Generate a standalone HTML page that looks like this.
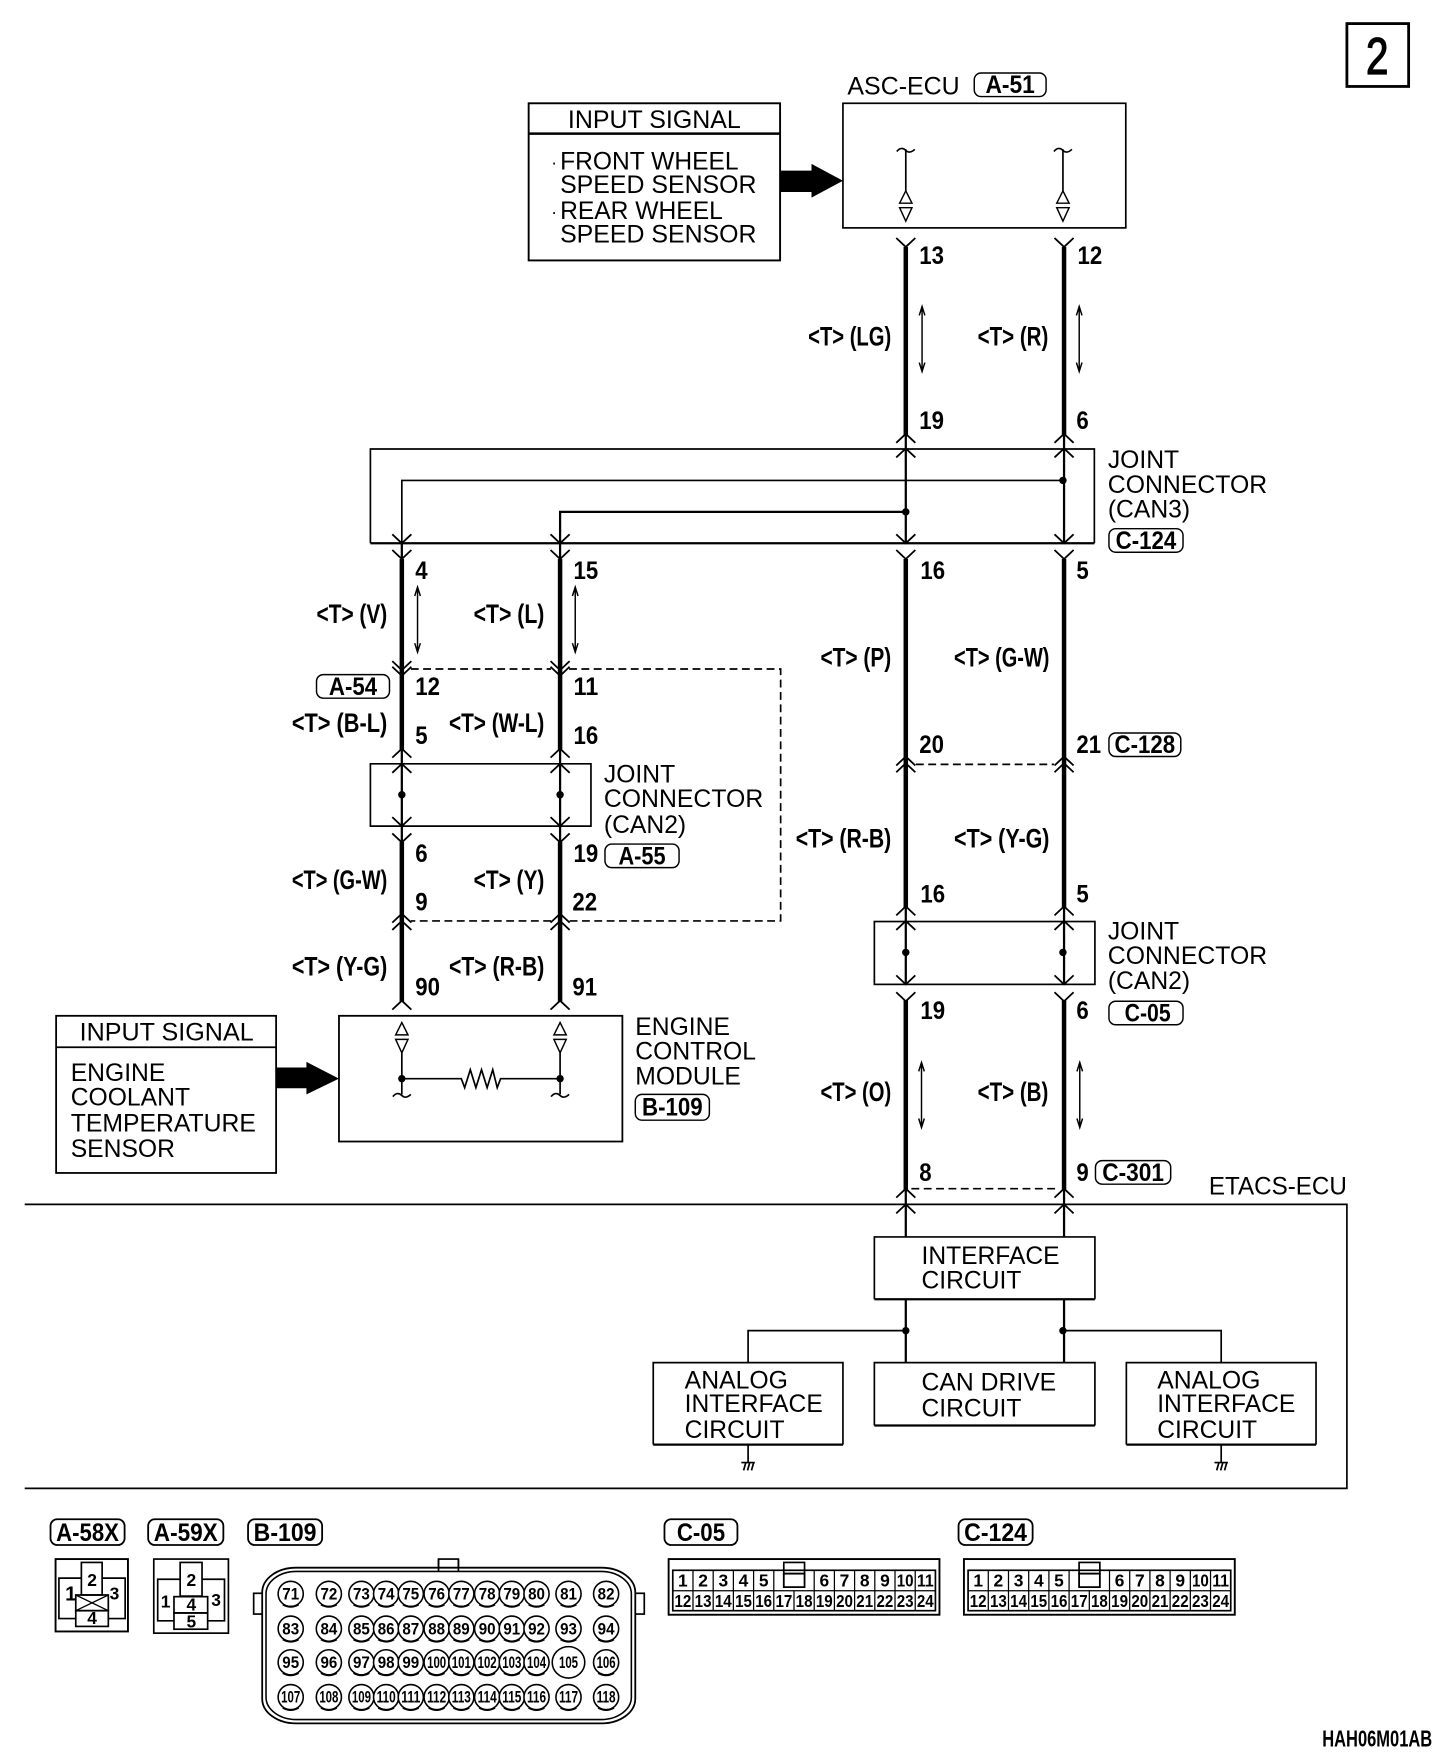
<!DOCTYPE html>
<html>
<head>
<meta charset="utf-8">
<title>Wiring diagram</title>
<style>
html,body{margin:0;padding:0;background:#fff;width:1456px;height:1760px;overflow:hidden}
svg{display:block}
text{font-family:"Liberation Sans",sans-serif;fill:#000;stroke:none}
.r{font-size:22px}
.b{font-size:24px;font-weight:bold}
.d{font-size:22px;font-weight:bold}
.s{font-size:14.5px;font-weight:bold;text-anchor:middle}
.g{font-size:15.5px;font-weight:bold;text-anchor:middle}
.f{fill:none;stroke:#000;stroke-width:1.5}
.t{fill:none;stroke:#000;stroke-width:2}
.w{fill:none;stroke:#000;stroke-width:4}
.p{fill:#fff;stroke:#000;stroke-width:1.3}
.dash{fill:none;stroke:#000;stroke-width:1.5;stroke-dasharray:7 4}
</style>
</head>
<body>
<svg xmlns="http://www.w3.org/2000/svg" width="1456" height="1760" viewBox="0 0 1297.2 1568">
<defs>
<path id="v" d="M-8.5,-8 L0,0 L8.5,-8" fill="none" stroke="#000" stroke-width="1.6"/>
<path id="u" d="M-8.5,8 L0,0 L8.5,8" fill="none" stroke="#000" stroke-width="1.6"/>
<path id="tl" d="M-8,2 C-5,-2 -2,-1 0,1 C2,3 5,3 8,0" fill="none" stroke="#000" stroke-width="1.5"/>
<path id="tr" d="M-5.5,11 L0,0 L5.5,11 Z M-5.5,15 L5.5,15 L0,27 Z" fill="#fff" stroke="#000" stroke-width="1.3"/>
<path id="da" d="M0,0 V58 M-2.5,8 L0,0 L2.5,8 M-2.5,50 L0,58 L2.5,50" fill="none" stroke="#000" stroke-width="1.3"/>
<path id="gnd" d="M-6,0 H6 M-4,7 L-2,0 M-0.5,7 L1.5,0 M3,7 L5,0" fill="none" stroke="#000" stroke-width="1.5"/>
<g id="c"><circle r="11.2" fill="#fff" stroke="#000" stroke-width="1.4"/><path d="M-7,9.5 Q0,13.5 7,9.5" fill="none" stroke="#000" stroke-width="1.8"/></g>
</defs>

<!-- page number -->
<rect x="1200" y="21" width="55" height="56" fill="none" stroke="#000" stroke-width="2.5"/>
<text x="1217" y="66" font-size="46" textLength="20" lengthAdjust="spacingAndGlyphs" stroke="#000" style="stroke:#000;stroke-width:1.2">2</text>

<!-- ASC-ECU -->
<text class="r" x="755" y="84" textLength="100" lengthAdjust="spacingAndGlyphs">ASC-ECU</text>
<rect class="p" x="868" y="65" width="64" height="21" rx="6"/>
<text class="d" x="878" y="83" textLength="44" lengthAdjust="spacingAndGlyphs">A-51</text>
<rect class="f" x="751" y="92" width="252" height="111"/>
<use href="#tl" x="807" y="133"/><use href="#tl" x="947" y="133"/>
<path class="f" d="M807,133 V170 M947,133 V170"/>
<use href="#tr" x="807" y="170"/><use href="#tr" x="947" y="170"/>

<!-- Input signal top -->
<rect x="471" y="92" width="224" height="140" fill="none" stroke="#000" stroke-width="1.7"/>
<path d="M471,119 H695" stroke="#000" stroke-width="2.2" fill="none"/>
<text class="r" x="506" y="114" textLength="154" lengthAdjust="spacingAndGlyphs">INPUT SIGNAL</text>
<text x="491" y="150" font-size="16">·</text>
<text class="r" x="499" y="151" textLength="159" lengthAdjust="spacingAndGlyphs">FRONT WHEEL</text>
<text class="r" x="499" y="172" textLength="175" lengthAdjust="spacingAndGlyphs">SPEED SENSOR</text>
<text x="491" y="194" font-size="16">·</text>
<text class="r" x="499" y="195" textLength="145" lengthAdjust="spacingAndGlyphs">REAR WHEEL</text>
<text class="r" x="499" y="216" textLength="175" lengthAdjust="spacingAndGlyphs">SPEED SENSOR</text>
<path d="M695,152 H723 V146 L751,161 L723,176 V171 H695 Z" fill="#000"/>

<!-- Joint CAN3 -->
<path class="f" d="M330,484 V400 H975 V484"/>
<path d="M330,484 H975" stroke="#000" stroke-width="2" fill="none"/>
<path class="f" d="M947,428 H358 V484"/>
<path class="t" d="M807,456 H499 V484"/>
<circle cx="807" cy="456" r="3.3"/><circle cx="947" cy="428" r="3.3"/>
<text class="r" x="987" y="417">JOINT</text>
<text class="r" x="987" y="439" textLength="142" lengthAdjust="spacingAndGlyphs">CONNECTOR</text>
<text class="r" x="987" y="461">(CAN3)</text>
<rect class="p" x="988" y="471" width="66" height="21" rx="6"/>
<text class="d" x="994" y="489" textLength="54" lengthAdjust="spacingAndGlyphs">C-124</text>

<!-- Right wires -->
<path class="w" d="M807,220 V388 M948,220 V388 M807,498 V680 M948,498 V680 M807,680 V809 M948,680 V809 M807,891 V1060 M948,891 V1060"/>
<path class="t" d="M807,388 V484 M948,388 V484 M807,809 V877 M948,809 V877 M807,1060 V1102 M948,1060 V1102 M807,1157 V1214 M948,1157 V1214"/>
<use href="#v" x="807" y="220"/><use href="#v" x="948" y="220"/>
<use href="#u" x="807" y="386.5"/><use href="#u" x="948" y="386.5"/>
<use href="#u" x="807" y="399.5"/><use href="#u" x="948" y="399.5"/>
<use href="#v" x="807" y="484"/><use href="#v" x="948" y="484"/>
<use href="#v" x="807" y="498"/><use href="#v" x="948" y="498"/>
<use href="#u" x="807" y="674"/><use href="#u" x="948" y="674"/>
<use href="#u" x="807" y="680"/><use href="#u" x="948" y="680"/>
<path class="dash" d="M816,681 H939"/>
<use href="#u" x="807" y="807.5"/><use href="#u" x="948" y="807.5"/>
<use href="#u" x="807" y="820.5"/><use href="#u" x="948" y="820.5"/>
<use href="#v" x="807" y="877"/><use href="#v" x="948" y="877"/>
<use href="#v" x="807" y="892"/><use href="#v" x="948" y="892"/>
<use href="#u" x="807" y="1059"/><use href="#u" x="948" y="1059"/>
<use href="#u" x="807" y="1073"/><use href="#u" x="948" y="1073"/>
<path class="dash" d="M812,1059 H943"/>

<!-- Joint CAN2 right -->
<rect class="f" x="779" y="821" width="196.5" height="56"/>
<circle cx="807" cy="848.5" r="3.3"/><circle cx="947" cy="848.5" r="3.3"/>
<text class="r" x="987" y="837">JOINT</text>
<text class="r" x="987" y="859" textLength="142" lengthAdjust="spacingAndGlyphs">CONNECTOR</text>
<text class="r" x="987" y="881">(CAN2)</text>
<rect class="p" x="988" y="892" width="66" height="21" rx="6"/>
<text class="d" x="1002" y="910" textLength="41" lengthAdjust="spacingAndGlyphs">C-05</text>

<!-- Right labels -->
<text class="d" x="819" y="235" textLength="22" lengthAdjust="spacingAndGlyphs">13</text>
<text class="d" x="960" y="235" textLength="22" lengthAdjust="spacingAndGlyphs">12</text>
<text class="d" x="819" y="382" textLength="22" lengthAdjust="spacingAndGlyphs">19</text>
<text class="d" x="959" y="382" textLength="11" lengthAdjust="spacingAndGlyphs">6</text>
<text class="b" x="720" y="308" textLength="74" lengthAdjust="spacingAndGlyphs">&lt;T&gt; (LG)</text>
<text class="b" x="871" y="308" textLength="63" lengthAdjust="spacingAndGlyphs">&lt;T&gt; (R)</text>
<use href="#da" x="821.5" y="273"/><use href="#da" x="961.5" y="273"/>
<text class="d" x="820" y="516" textLength="22" lengthAdjust="spacingAndGlyphs">16</text>
<text class="d" x="959" y="516" textLength="11" lengthAdjust="spacingAndGlyphs">5</text>
<text class="b" x="731" y="594" textLength="63" lengthAdjust="spacingAndGlyphs">&lt;T&gt; (P)</text>
<text class="b" x="850" y="594" textLength="85" lengthAdjust="spacingAndGlyphs">&lt;T&gt; (G-W)</text>
<text class="d" x="819" y="671" textLength="22" lengthAdjust="spacingAndGlyphs">20</text>
<text class="d" x="959" y="671" textLength="22" lengthAdjust="spacingAndGlyphs">21</text>
<rect class="p" x="988" y="653" width="64" height="21" rx="6"/>
<text class="d" x="993" y="671" textLength="54" lengthAdjust="spacingAndGlyphs">C-128</text>
<text class="b" x="709" y="755" textLength="85" lengthAdjust="spacingAndGlyphs">&lt;T&gt; (R-B)</text>
<text class="b" x="850" y="755" textLength="85" lengthAdjust="spacingAndGlyphs">&lt;T&gt; (Y-G)</text>
<text class="d" x="820" y="804" textLength="22" lengthAdjust="spacingAndGlyphs">16</text>
<text class="d" x="959" y="804" textLength="11" lengthAdjust="spacingAndGlyphs">5</text>
<text class="d" x="820" y="908" textLength="22" lengthAdjust="spacingAndGlyphs">19</text>
<text class="d" x="959" y="908" textLength="11" lengthAdjust="spacingAndGlyphs">6</text>
<text class="b" x="731" y="981" textLength="63" lengthAdjust="spacingAndGlyphs">&lt;T&gt; (O)</text>
<text class="b" x="871" y="981" textLength="63" lengthAdjust="spacingAndGlyphs">&lt;T&gt; (B)</text>
<use href="#da" x="821" y="946.5"/><use href="#da" x="962" y="946.5"/>
<text class="d" x="819" y="1052" textLength="11" lengthAdjust="spacingAndGlyphs">8</text>
<text class="d" x="959" y="1052" textLength="11" lengthAdjust="spacingAndGlyphs">9</text>
<rect class="p" x="976" y="1034" width="67" height="21" rx="6"/>
<text class="d" x="982" y="1052" textLength="55" lengthAdjust="spacingAndGlyphs">C-301</text>

<!-- Left wires -->
<path class="w" d="M358,498 V595 M499,498 V595 M358,595 V668 M499,595 V668 M358,750 V815 M499,750 V815 M358,815 V892 M499,815 V892"/>
<path class="t" d="M358,484 V498 M499,484 V498 M358,668 V736 M499,668 V736 M358,736 V750 M499,736 V750"/>
<use href="#v" x="358" y="484"/><use href="#v" x="499" y="484"/>
<use href="#v" x="358" y="498"/><use href="#v" x="499" y="498"/>
<use href="#v" x="358" y="597"/><use href="#v" x="499" y="597"/>
<use href="#v" x="358" y="602"/><use href="#v" x="499" y="602"/>
<use href="#u" x="358" y="667"/><use href="#u" x="499" y="667"/>
<use href="#u" x="358" y="680.5"/><use href="#u" x="499" y="680.5"/>
<use href="#v" x="358" y="736"/><use href="#v" x="499" y="736"/>
<use href="#v" x="358" y="750.5"/><use href="#v" x="499" y="750.5"/>
<use href="#u" x="358" y="814"/><use href="#u" x="499" y="814"/>
<use href="#u" x="358" y="820.5"/><use href="#u" x="499" y="820.5"/>
<use href="#u" x="358" y="891.5"/><use href="#u" x="499" y="891.5"/>
<path class="dash" d="M366,596 H491 M507,596 H695.5 V820.5 H507 M491,820.5 H366"/>

<!-- Joint CAN2 left -->
<path class="f" d="M330,736 V680.5 H526.5 V736 Z"/>
<circle cx="358" cy="708" r="3.3"/><circle cx="499" cy="708" r="3.3"/>
<text class="r" x="538" y="697">JOINT</text>
<text class="r" x="538" y="719" textLength="142" lengthAdjust="spacingAndGlyphs">CONNECTOR</text>
<text class="r" x="538" y="742">(CAN2)</text>
<rect class="p" x="539" y="752" width="66" height="21" rx="6"/>
<text class="d" x="551" y="770" textLength="42" lengthAdjust="spacingAndGlyphs">A-55</text>

<!-- Left labels -->
<text class="d" x="370" y="516" textLength="11" lengthAdjust="spacingAndGlyphs">4</text>
<text class="d" x="511" y="516" textLength="22" lengthAdjust="spacingAndGlyphs">15</text>
<text class="b" x="282" y="555" textLength="63" lengthAdjust="spacingAndGlyphs">&lt;T&gt; (V)</text>
<text class="b" x="422" y="555" textLength="63" lengthAdjust="spacingAndGlyphs">&lt;T&gt; (L)</text>
<use href="#da" x="372" y="523"/><use href="#da" x="512.5" y="523"/>
<rect class="p" x="282" y="601" width="65" height="21" rx="6"/>
<text class="d" x="293" y="619" textLength="43" lengthAdjust="spacingAndGlyphs">A-54</text>
<text class="d" x="370" y="619" textLength="22" lengthAdjust="spacingAndGlyphs">12</text>
<text class="d" x="511" y="619" textLength="22" lengthAdjust="spacingAndGlyphs">11</text>
<text class="b" x="260" y="652" textLength="85" lengthAdjust="spacingAndGlyphs">&lt;T&gt; (B-L)</text>
<text class="b" x="400" y="652" textLength="85" lengthAdjust="spacingAndGlyphs">&lt;T&gt; (W-L)</text>
<text class="d" x="370" y="663" textLength="11" lengthAdjust="spacingAndGlyphs">5</text>
<text class="d" x="511" y="663" textLength="22" lengthAdjust="spacingAndGlyphs">16</text>
<text class="d" x="370" y="768" textLength="11" lengthAdjust="spacingAndGlyphs">6</text>
<text class="d" x="511" y="768" textLength="22" lengthAdjust="spacingAndGlyphs">19</text>
<text class="b" x="260" y="792" textLength="85" lengthAdjust="spacingAndGlyphs">&lt;T&gt; (G-W)</text>
<text class="b" x="422" y="792" textLength="63" lengthAdjust="spacingAndGlyphs">&lt;T&gt; (Y)</text>
<text class="d" x="370" y="811" textLength="11" lengthAdjust="spacingAndGlyphs">9</text>
<text class="d" x="510" y="811" textLength="22" lengthAdjust="spacingAndGlyphs">22</text>
<text class="b" x="260" y="869" textLength="85" lengthAdjust="spacingAndGlyphs">&lt;T&gt; (Y-G)</text>
<text class="b" x="400" y="869" textLength="85" lengthAdjust="spacingAndGlyphs">&lt;T&gt; (R-B)</text>
<text class="d" x="370" y="887" textLength="22" lengthAdjust="spacingAndGlyphs">90</text>
<text class="d" x="510" y="887" textLength="22" lengthAdjust="spacingAndGlyphs">91</text>

<!-- ECM -->
<rect x="302" y="905" width="252.5" height="112" fill="none" stroke="#000" stroke-width="1.6"/>
<use href="#tr" x="358" y="911"/><use href="#tr" x="499" y="911"/>
<path class="f" d="M358,938 V975 M499,938 V975 M358,961 H411 L414,969 L419,953 L424,969 L429,953 L434,969 L439,953 L443,969 L446,961 H499"/>
<circle cx="358" cy="961" r="3.3"/><circle cx="499" cy="961" r="3.3"/>
<use href="#tl" x="358" y="975"/><use href="#tl" x="499" y="975"/>
<text class="r" x="566" y="922">ENGINE</text>
<text class="r" x="566" y="944">CONTROL</text>
<text class="r" x="566" y="966">MODULE</text>
<rect class="p" x="566" y="975" width="66" height="23" rx="6"/>
<text class="d" x="572" y="994" textLength="54" lengthAdjust="spacingAndGlyphs">B-109</text>

<!-- Input signal lower -->
<rect x="50" y="905" width="196" height="140" fill="none" stroke="#000" stroke-width="1.6"/>
<path d="M50,933 H246" stroke="#000" stroke-width="1.6" fill="none"/>
<text class="r" x="71" y="927" textLength="155" lengthAdjust="spacingAndGlyphs">INPUT SIGNAL</text>
<text class="r" x="63" y="963">ENGINE</text>
<text class="r" x="63" y="985">COOLANT</text>
<text class="r" x="63" y="1008" textLength="165" lengthAdjust="spacingAndGlyphs">TEMPERATURE</text>
<text class="r" x="63" y="1031">SENSOR</text>
<path d="M246.5,951 H273 V946 L302,961 L273,975 V969.5 H246.5 Z" fill="#000"/>

<!-- ETACS -->
<text class="r" x="1077" y="1064" textLength="123" lengthAdjust="spacingAndGlyphs">ETACS-ECU</text>
<path class="f" d="M22,1073 H1200 V1326 H22"/>
<path class="f" d="M779,1157.5 V1102 H975.5 V1157.5"/><path d="M779,1157.5 H975.5" stroke="#000" stroke-width="2" fill="none"/>
<text class="r" x="821" y="1126" textLength="123" lengthAdjust="spacingAndGlyphs">INTERFACE</text>
<text class="r" x="821" y="1148" textLength="89" lengthAdjust="spacingAndGlyphs">CIRCUIT</text>
<circle cx="807" cy="1185.5" r="3.3"/><circle cx="947" cy="1185.5" r="3.3"/>
<path class="f" d="M807,1185.5 H666.5 V1214 M947,1185.5 H1088 V1214"/>
<path class="f" d="M582,1287 V1214 H751 V1287"/><path d="M582,1287 H751" stroke="#000" stroke-width="2" fill="none"/>
<text class="r" x="610" y="1237" textLength="92" lengthAdjust="spacingAndGlyphs">ANALOG</text>
<text class="r" x="610" y="1258" textLength="123" lengthAdjust="spacingAndGlyphs">INTERFACE</text>
<text class="r" x="610" y="1281" textLength="89" lengthAdjust="spacingAndGlyphs">CIRCUIT</text>
<path class="f" d="M779,1270 V1214 H975.5 V1270"/><path d="M779,1270 H975.5" stroke="#000" stroke-width="2" fill="none"/>
<text class="r" x="821" y="1239" textLength="120" lengthAdjust="spacingAndGlyphs">CAN DRIVE</text>
<text class="r" x="821" y="1262" textLength="89" lengthAdjust="spacingAndGlyphs">CIRCUIT</text>
<path class="f" d="M1003.5,1287 V1214 H1172.5 V1287"/><path d="M1003.5,1287 H1172.5" stroke="#000" stroke-width="2" fill="none"/>
<text class="r" x="1031" y="1237" textLength="92" lengthAdjust="spacingAndGlyphs">ANALOG</text>
<text class="r" x="1031" y="1258" textLength="123" lengthAdjust="spacingAndGlyphs">INTERFACE</text>
<text class="r" x="1031" y="1281" textLength="89" lengthAdjust="spacingAndGlyphs">CIRCUIT</text>
<path class="f" d="M666.5,1287 V1303 M1088,1287 V1303"/>
<use href="#gnd" x="666.5" y="1303"/><use href="#gnd" x="1088" y="1303"/>

<!-- Connector tags -->
<rect class="p" x="45" y="1353.5" width="66" height="23" rx="6" style="stroke-width:1.6"/>
<text class="d" x="50" y="1373" textLength="56" lengthAdjust="spacingAndGlyphs">A-58X</text>
<rect class="p" x="132" y="1353.5" width="67" height="23" rx="6" style="stroke-width:1.6"/>
<text class="d" x="137" y="1373" textLength="57" lengthAdjust="spacingAndGlyphs">A-59X</text>
<rect class="p" x="221" y="1353.5" width="66" height="23" rx="6" style="stroke-width:1.6"/>
<text class="d" x="226" y="1373" textLength="56" lengthAdjust="spacingAndGlyphs">B-109</text>
<rect class="p" x="592" y="1353.5" width="65" height="23" rx="6" style="stroke-width:1.6"/>
<text class="d" x="603" y="1373" textLength="43" lengthAdjust="spacingAndGlyphs">C-05</text>
<rect class="p" x="854" y="1353.5" width="66" height="23" rx="6" style="stroke-width:1.6"/>
<text class="d" x="859" y="1373" textLength="56" lengthAdjust="spacingAndGlyphs">C-124</text>

<!-- A-58X -->
<rect x="49.5" y="1389" width="64.5" height="64.5" fill="none" stroke="#000" stroke-width="1.7"/>
<path class="f" d="M72.5,1406 H52.5 V1442 H67.5 M91,1406 H111.5 V1442 H96.5"/>
<rect class="f" x="72.5" y="1392" width="18.5" height="29"/>
<rect class="f" x="67.5" y="1421" width="29" height="14"/>
<path d="M67.5,1421 L96.5,1435 M96.5,1421 L67.5,1435" stroke="#000" stroke-width="1.2"/>
<rect class="f" x="67.5" y="1435" width="29" height="14"/>
<text class="g" x="63" y="1426" style="font-size:18px">1</text>
<text class="g" x="82" y="1413">2</text>
<text class="g" x="102" y="1425">3</text>
<text class="g" x="82" y="1447">4</text>

<!-- A-59X -->
<rect x="137" y="1389" width="66.5" height="66" fill="none" stroke="#000" stroke-width="1.5"/>
<path class="f" d="M160.5,1407 H140.5 V1444 H155 M180,1407 H200 V1444 H185"/>
<rect class="f" x="160.5" y="1392" width="19.5" height="30"/>
<rect class="f" x="155" y="1422.5" width="30" height="14.5"/>
<rect class="f" x="155" y="1437" width="30" height="14.5"/>
<text class="g" x="147.5" y="1432">1</text>
<text class="g" x="170.5" y="1413">2</text>
<text class="g" x="192.5" y="1431">3</text>
<text class="g" x="170.5" y="1435">4</text>
<text class="g" x="170.5" y="1450">5</text>

<!-- B-109 -->
<rect class="f" x="390.7" y="1389" width="17.7" height="12"/>
<rect class="f" x="226" y="1419.5" width="10" height="18.5"/>
<rect class="f" x="564" y="1419.5" width="10" height="18.5"/>
<rect x="233.6" y="1396.7" width="332.4" height="138.7" rx="30" ry="22" fill="#fff" stroke="#000" stroke-width="1.6"/>
<rect x="237" y="1400" width="325.5" height="132" rx="27" ry="20" fill="none" stroke="#000" stroke-width="1.4"/>
<path class="f" d="M390.7,1389 V1400 M408.4,1389 V1400"/>

<use href="#c" x="259" y="1420"/><use href="#c" x="293" y="1420"/><use href="#c" x="322" y="1420"/><use href="#c" x="344" y="1420"/><use href="#c" x="366" y="1420"/><use href="#c" x="389" y="1420"/><use href="#c" x="411" y="1420"/><use href="#c" x="434" y="1420"/><use href="#c" x="456" y="1420"/><use href="#c" x="478" y="1420"/><use href="#c" x="506.5" y="1420"/><use href="#c" x="540" y="1420"/>
<use href="#c" x="259" y="1451"/><use href="#c" x="293" y="1451"/><use href="#c" x="322" y="1451"/><use href="#c" x="344" y="1451"/><use href="#c" x="366" y="1451"/><use href="#c" x="389" y="1451"/><use href="#c" x="411" y="1451"/><use href="#c" x="434" y="1451"/><use href="#c" x="456" y="1451"/><use href="#c" x="478" y="1451"/><use href="#c" x="506.5" y="1451"/><use href="#c" x="540" y="1451"/>
<use href="#c" x="259" y="1481"/><use href="#c" x="293" y="1481"/><use href="#c" x="322" y="1481"/><use href="#c" x="344" y="1481"/><use href="#c" x="366" y="1481"/><use href="#c" x="389" y="1481"/><use href="#c" x="411" y="1481"/><use href="#c" x="434" y="1481"/><use href="#c" x="456" y="1481"/><use href="#c" x="478" y="1481"/><ellipse cx="506.5" cy="1481" rx="14.5" ry="14" fill="#fff" stroke="#000" stroke-width="1.4"/><use href="#c" x="540" y="1481"/>
<use href="#c" x="259" y="1512"/><use href="#c" x="293" y="1512"/><use href="#c" x="322" y="1512"/><use href="#c" x="344" y="1512"/><use href="#c" x="366" y="1512"/><use href="#c" x="389" y="1512"/><use href="#c" x="411" y="1512"/><use href="#c" x="434" y="1512"/><use href="#c" x="456" y="1512"/><use href="#c" x="478" y="1512"/><use href="#c" x="506.5" y="1512"/><use href="#c" x="540" y="1512"/>

<text class="s" x="259" y="1425" textLength="15" lengthAdjust="spacingAndGlyphs">71</text>
<text class="s" x="293" y="1425" textLength="15" lengthAdjust="spacingAndGlyphs">72</text>
<text class="s" x="322" y="1425" textLength="15" lengthAdjust="spacingAndGlyphs">73</text>
<text class="s" x="344" y="1425" textLength="15" lengthAdjust="spacingAndGlyphs">74</text>
<text class="s" x="366" y="1425" textLength="15" lengthAdjust="spacingAndGlyphs">75</text>
<text class="s" x="389" y="1425" textLength="15" lengthAdjust="spacingAndGlyphs">76</text>
<text class="s" x="411" y="1425" textLength="15" lengthAdjust="spacingAndGlyphs">77</text>
<text class="s" x="434" y="1425" textLength="15" lengthAdjust="spacingAndGlyphs">78</text>
<text class="s" x="456" y="1425" textLength="15" lengthAdjust="spacingAndGlyphs">79</text>
<text class="s" x="478" y="1425" textLength="15" lengthAdjust="spacingAndGlyphs">80</text>
<text class="s" x="506.5" y="1425" textLength="15" lengthAdjust="spacingAndGlyphs">81</text>
<text class="s" x="540" y="1425" textLength="15" lengthAdjust="spacingAndGlyphs">82</text>

<text class="s" x="259" y="1456" textLength="15" lengthAdjust="spacingAndGlyphs">83</text>
<text class="s" x="293" y="1456" textLength="15" lengthAdjust="spacingAndGlyphs">84</text>
<text class="s" x="322" y="1456" textLength="15" lengthAdjust="spacingAndGlyphs">85</text>
<text class="s" x="344" y="1456" textLength="15" lengthAdjust="spacingAndGlyphs">86</text>
<text class="s" x="366" y="1456" textLength="15" lengthAdjust="spacingAndGlyphs">87</text>
<text class="s" x="389" y="1456" textLength="15" lengthAdjust="spacingAndGlyphs">88</text>
<text class="s" x="411" y="1456" textLength="15" lengthAdjust="spacingAndGlyphs">89</text>
<text class="s" x="434" y="1456" textLength="15" lengthAdjust="spacingAndGlyphs">90</text>
<text class="s" x="456" y="1456" textLength="15" lengthAdjust="spacingAndGlyphs">91</text>
<text class="s" x="478" y="1456" textLength="15" lengthAdjust="spacingAndGlyphs">92</text>
<text class="s" x="506.5" y="1456" textLength="15" lengthAdjust="spacingAndGlyphs">93</text>
<text class="s" x="540" y="1456" textLength="15" lengthAdjust="spacingAndGlyphs">94</text>

<text class="s" x="259" y="1486" textLength="15" lengthAdjust="spacingAndGlyphs">95</text>
<text class="s" x="293" y="1486" textLength="15" lengthAdjust="spacingAndGlyphs">96</text>
<text class="s" x="322" y="1486" textLength="15" lengthAdjust="spacingAndGlyphs">97</text>
<text class="s" x="344" y="1486" textLength="15" lengthAdjust="spacingAndGlyphs">98</text>
<text class="s" x="366" y="1486" textLength="15" lengthAdjust="spacingAndGlyphs">99</text>
<text class="s" x="389" y="1486" textLength="17" lengthAdjust="spacingAndGlyphs">100</text>
<text class="s" x="411" y="1486" textLength="17" lengthAdjust="spacingAndGlyphs">101</text>
<text class="s" x="434" y="1486" textLength="17" lengthAdjust="spacingAndGlyphs">102</text>
<text class="s" x="456" y="1486" textLength="17" lengthAdjust="spacingAndGlyphs">103</text>
<text class="s" x="478" y="1486" textLength="17" lengthAdjust="spacingAndGlyphs">104</text>
<text class="s" x="506.5" y="1486" textLength="17" lengthAdjust="spacingAndGlyphs">105</text>
<text class="s" x="540" y="1486" textLength="17" lengthAdjust="spacingAndGlyphs">106</text>

<text class="s" x="259" y="1517" textLength="17" lengthAdjust="spacingAndGlyphs">107</text>
<text class="s" x="293" y="1517" textLength="17" lengthAdjust="spacingAndGlyphs">108</text>
<text class="s" x="322" y="1517" textLength="17" lengthAdjust="spacingAndGlyphs">109</text>
<text class="s" x="344" y="1517" textLength="17" lengthAdjust="spacingAndGlyphs">110</text>
<text class="s" x="366" y="1517" textLength="17" lengthAdjust="spacingAndGlyphs">111</text>
<text class="s" x="389" y="1517" textLength="17" lengthAdjust="spacingAndGlyphs">112</text>
<text class="s" x="411" y="1517" textLength="17" lengthAdjust="spacingAndGlyphs">113</text>
<text class="s" x="434" y="1517" textLength="17" lengthAdjust="spacingAndGlyphs">114</text>
<text class="s" x="456" y="1517" textLength="17" lengthAdjust="spacingAndGlyphs">115</text>
<text class="s" x="478" y="1517" textLength="17" lengthAdjust="spacingAndGlyphs">116</text>
<text class="s" x="506.5" y="1517" textLength="17" lengthAdjust="spacingAndGlyphs">117</text>
<text class="s" x="540" y="1517" textLength="17" lengthAdjust="spacingAndGlyphs">118</text>

<!-- C-05 grid -->
<g>
<rect x="595.7" y="1389" width="241.3" height="49.6" fill="none" stroke="#000" stroke-width="1.7"/>
<rect class="f" x="599.4" y="1399" width="234" height="36"/>
<path class="f" style="stroke-width:1.1" d="M599.4,1417.2 H833.4 M617.4,1399 V1435 M635.4,1399 V1435 M653.4,1399 V1435 M671.4,1399 V1435 M689.4,1399 V1435 M725.4,1399 V1435 M743.4,1399 V1435 M761.4,1399 V1435 M779.4,1399 V1435 M797.4,1399 V1435 M815.4,1399 V1435 M707.4,1417.2 V1435"/>
<rect class="f" x="698.3" y="1392" width="18.5" height="10"/>
<rect x="698.3" y="1402" width="18.5" height="12" fill="#fff" stroke="#000" stroke-width="1.6"/>
<text class="g" x="608.4" y="1413.5">1</text><text class="g" x="626.4" y="1413.5">2</text><text class="g" x="644.4" y="1413.5">3</text><text class="g" x="662.4" y="1413.5">4</text><text class="g" x="680.4" y="1413.5">5</text><text class="g" x="734.4" y="1413.5">6</text><text class="g" x="752.4" y="1413.5">7</text><text class="g" x="770.4" y="1413.5">8</text><text class="g" x="788.4" y="1413.5">9</text><text class="g" x="806.4" y="1413.5" textLength="15" lengthAdjust="spacingAndGlyphs">10</text><text class="g" x="824.4" y="1413.5" textLength="15" lengthAdjust="spacingAndGlyphs">11</text>
<text class="g" x="608.4" y="1431.5" textLength="15" lengthAdjust="spacingAndGlyphs">12</text><text class="g" x="626.4" y="1431.5" textLength="15" lengthAdjust="spacingAndGlyphs">13</text><text class="g" x="644.4" y="1431.5" textLength="15" lengthAdjust="spacingAndGlyphs">14</text><text class="g" x="662.4" y="1431.5" textLength="15" lengthAdjust="spacingAndGlyphs">15</text><text class="g" x="680.4" y="1431.5" textLength="15" lengthAdjust="spacingAndGlyphs">16</text><text class="g" x="698.4" y="1431.5" textLength="15" lengthAdjust="spacingAndGlyphs">17</text><text class="g" x="716.4" y="1431.5" textLength="15" lengthAdjust="spacingAndGlyphs">18</text><text class="g" x="734.4" y="1431.5" textLength="15" lengthAdjust="spacingAndGlyphs">19</text><text class="g" x="752.4" y="1431.5" textLength="15" lengthAdjust="spacingAndGlyphs">20</text><text class="g" x="770.4" y="1431.5" textLength="15" lengthAdjust="spacingAndGlyphs">21</text><text class="g" x="788.4" y="1431.5" textLength="15" lengthAdjust="spacingAndGlyphs">22</text><text class="g" x="806.4" y="1431.5" textLength="15" lengthAdjust="spacingAndGlyphs">23</text><text class="g" x="824.4" y="1431.5" textLength="15" lengthAdjust="spacingAndGlyphs">24</text>
</g>

<!-- C-124 grid -->
<g transform="translate(263.1,0)">
<rect x="595.7" y="1389" width="241.3" height="49.6" fill="none" stroke="#000" stroke-width="1.7"/>
<rect class="f" x="599.4" y="1399" width="234" height="36"/>
<path class="f" style="stroke-width:1.1" d="M599.4,1417.2 H833.4 M617.4,1399 V1435 M635.4,1399 V1435 M653.4,1399 V1435 M671.4,1399 V1435 M689.4,1399 V1435 M725.4,1399 V1435 M743.4,1399 V1435 M761.4,1399 V1435 M779.4,1399 V1435 M797.4,1399 V1435 M815.4,1399 V1435 M707.4,1417.2 V1435"/>
<rect class="f" x="698.3" y="1392" width="18.5" height="10"/>
<rect x="698.3" y="1402" width="18.5" height="12" fill="#fff" stroke="#000" stroke-width="1.6"/>
<text class="g" x="608.4" y="1413.5">1</text><text class="g" x="626.4" y="1413.5">2</text><text class="g" x="644.4" y="1413.5">3</text><text class="g" x="662.4" y="1413.5">4</text><text class="g" x="680.4" y="1413.5">5</text><text class="g" x="734.4" y="1413.5">6</text><text class="g" x="752.4" y="1413.5">7</text><text class="g" x="770.4" y="1413.5">8</text><text class="g" x="788.4" y="1413.5">9</text><text class="g" x="806.4" y="1413.5" textLength="15" lengthAdjust="spacingAndGlyphs">10</text><text class="g" x="824.4" y="1413.5" textLength="15" lengthAdjust="spacingAndGlyphs">11</text>
<text class="g" x="608.4" y="1431.5" textLength="15" lengthAdjust="spacingAndGlyphs">12</text><text class="g" x="626.4" y="1431.5" textLength="15" lengthAdjust="spacingAndGlyphs">13</text><text class="g" x="644.4" y="1431.5" textLength="15" lengthAdjust="spacingAndGlyphs">14</text><text class="g" x="662.4" y="1431.5" textLength="15" lengthAdjust="spacingAndGlyphs">15</text><text class="g" x="680.4" y="1431.5" textLength="15" lengthAdjust="spacingAndGlyphs">16</text><text class="g" x="698.4" y="1431.5" textLength="15" lengthAdjust="spacingAndGlyphs">17</text><text class="g" x="716.4" y="1431.5" textLength="15" lengthAdjust="spacingAndGlyphs">18</text><text class="g" x="734.4" y="1431.5" textLength="15" lengthAdjust="spacingAndGlyphs">19</text><text class="g" x="752.4" y="1431.5" textLength="15" lengthAdjust="spacingAndGlyphs">20</text><text class="g" x="770.4" y="1431.5" textLength="15" lengthAdjust="spacingAndGlyphs">21</text><text class="g" x="788.4" y="1431.5" textLength="15" lengthAdjust="spacingAndGlyphs">22</text><text class="g" x="806.4" y="1431.5" textLength="15" lengthAdjust="spacingAndGlyphs">23</text><text class="g" x="824.4" y="1431.5" textLength="15" lengthAdjust="spacingAndGlyphs">24</text>
</g>

<text x="1178" y="1556" font-size="21" font-weight="bold" textLength="98" lengthAdjust="spacingAndGlyphs">HAH06M01AB</text>
</svg>
</body>
</html>
